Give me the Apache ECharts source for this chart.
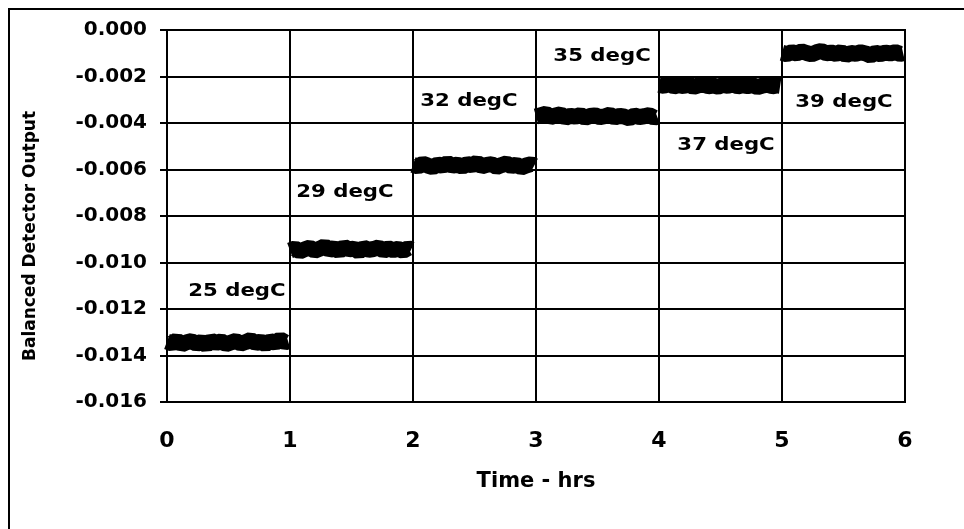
<!DOCTYPE html>
<html><head><meta charset="utf-8">
<script src="https://cdn.jsdelivr.net/npm/echarts@6/dist/echarts.min.js"></script>
<style>html,body{margin:0;padding:0;background:#fff}#c{width:964px;height:529px}</style>
</head><body><div id="c"></div>
<script>
// sample times within each hour (hrs offset)
const sampleOffsets = [0.00,0.04,0.08,0.12,0.16,0.20,0.24,0.28,0.32,0.36,0.40,0.44,0.48,0.52,0.56,0.60,0.64,0.68,0.72,0.76,0.80,0.84,0.88,0.92,0.96,0.985];
const hourStarts = [0,1,2,3,4,5];
const seg25 = [-0.01340,-0.01348,-0.01335,-0.01352,-0.01343,-0.01338,-0.01350,-0.01341,-0.01355,-0.01336,-0.01346,-0.01339,-0.01351,-0.01344,-0.01337,-0.01349,-0.01342,-0.01333,-0.01347,-0.01340,-0.01352,-0.01338,-0.01345,-0.01331,-0.01343,-0.01339];
const seg29 = [-0.00948,-0.00940,-0.00952,-0.00943,-0.00936,-0.00949,-0.00941,-0.00930,-0.00946,-0.00938,-0.00951,-0.00933,-0.00944,-0.00940,-0.00953,-0.00937,-0.00945,-0.00942,-0.00935,-0.00949,-0.00939,-0.00947,-0.00941,-0.00950,-0.00938,-0.00944];
const seg32 = [-0.00580,-0.00587,-0.00575,-0.00583,-0.00590,-0.00578,-0.00585,-0.00572,-0.00584,-0.00579,-0.00588,-0.00576,-0.00582,-0.00570,-0.00586,-0.00580,-0.00577,-0.00589,-0.00581,-0.00574,-0.00586,-0.00579,-0.00591,-0.00583,-0.00577,-0.00584];
const seg35 = [-0.00372,-0.00366,-0.00360,-0.00374,-0.00368,-0.00362,-0.00377,-0.00369,-0.00373,-0.00365,-0.00378,-0.00370,-0.00367,-0.00375,-0.00371,-0.00364,-0.00376,-0.00369,-0.00373,-0.00380,-0.00368,-0.00374,-0.00371,-0.00366,-0.00377,-0.00372];
const seg37 = [-0.00236,-0.00240,-0.00232,-0.00243,-0.00237,-0.00241,-0.00233,-0.00245,-0.00238,-0.00235,-0.00242,-0.00239,-0.00244,-0.00236,-0.00240,-0.00234,-0.00243,-0.00238,-0.00241,-0.00237,-0.00246,-0.00239,-0.00235,-0.00242,-0.00238,-0.00240];
const seg39 = [-0.00098,-0.00104,-0.00095,-0.00101,-0.00092,-0.00099,-0.00105,-0.00096,-0.00090,-0.00100,-0.00097,-0.00103,-0.00094,-0.00108,-0.00099,-0.00102,-0.00096,-0.00101,-0.00110,-0.00098,-0.00104,-0.00097,-0.00101,-0.00095,-0.00103,-0.00100];
const segments = [seg25, seg29, seg32, seg35, seg37, seg39];
// annotation texts and their positions (data coords)
const labelTexts = ['25 degC','29 degC','32 degC','35 degC','37 degC','39 degC'];
const labelX = [0.569, 1.447, 2.455, 3.537, 4.545, 5.504];
const labelY = [-0.01124, -0.00699, -0.00305, -0.00112, -0.00498, -0.00313];

const FONT = "'DejaVu Sans', sans-serif";
const chart = echarts.init(document.getElementById('c'), null, {renderer:'canvas'});

const series = segments.map((vals, s) => ({
  type: 'line',
  data: vals.map((v, i) => [hourStarts[s] + sampleOffsets[i], v]),
  symbol: 'none',
  silent: true,
  animation: false,
  lineStyle: {color: '#000', width: 16, cap: 'butt', join: 'bevel'}
}));

const baseGraphics = [
  {type: 'rect', shape: {x: 9, y: 9, width: 1100, height: 1100}, style: {fill: 'none', stroke: '#000', lineWidth: 2}, silent: true, z: 100},
  {type: 'text', x: 31, y: 236, rotation: Math.PI / 2, silent: true,
    style: {text: 'Balanced Detector Output', fill: '#000', font: "bold 17px 'DejaVu Sans', sans-serif", align: 'center', verticalAlign: 'middle'}}
];

chart.setOption({
  animation: false,
  backgroundColor: '#fff',
  grid: {left: 167, right: 59, top: 30, bottom: 127, show: true, borderColor: '#000', borderWidth: 2, containLabel: false},
  xAxis: {
    type: 'value', min: 0, max: 6, interval: 1,
    axisLine: {show: true, lineStyle: {color: '#000', width: 2}},
    axisTick: {show: false},
    splitLine: {show: true, lineStyle: {color: '#000', width: 2}},
    axisLabel: {color: '#000', fontFamily: FONT, fontWeight: 'bold', fontSize: 22, margin: 28},
    name: 'Time - hrs', nameLocation: 'middle', nameGap: 69,
    nameTextStyle: {color: '#000', fontFamily: FONT, fontWeight: 'bold', fontSize: 21}
  },
  yAxis: {
    type: 'value', min: -0.016, max: 0, interval: 0.002,
    axisLine: {show: true, lineStyle: {color: '#000', width: 2}},
    axisTick: {show: true, length: 7, inside: false, lineStyle: {color: '#000', width: 2}},
    splitLine: {show: true, lineStyle: {color: '#000', width: 2}},
    axisLabel: {color: '#000', fontFamily: FONT, fontWeight: 'bold', fontSize: 20, margin: 20,
      formatter: v => (Math.abs(v) < 1e-12 ? 0 : v).toFixed(3)}
  },
  series: series,
  graphic: baseGraphics
});

const labelGraphics = labelTexts.map((t, i) => {
  const p = chart.convertToPixel({gridIndex: 0}, [labelX[i], labelY[i]]);
  return {type: 'text', x: p[0], y: p[1], scaleX: 1.18, silent: true, z: 50,
    style: {text: t, fill: '#000', font: "bold 18px 'DejaVu Sans', sans-serif", align: 'center', verticalAlign: 'middle'}};
});
chart.setOption({graphic: baseGraphics.concat(labelGraphics)});
</script>
</body></html>
